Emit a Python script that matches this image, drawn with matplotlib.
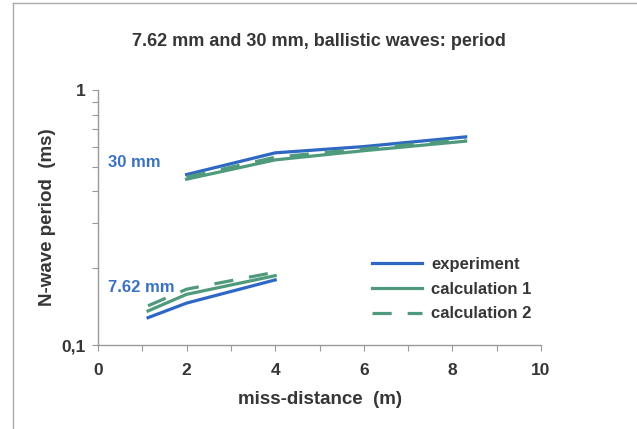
import numpy as np
import matplotlib.pyplot as plt
from matplotlib.lines import Line2D

plt.rcParams['font.family'] = ['Liberation Sans', 'DejaVu Sans']

# 30 mm projectile
x30 = [2, 4, 6, 8.3]
exp30 = [0.466, 0.567, 0.60, 0.655]
calc1_30 = [0.447, 0.532, 0.578, 0.630]
calc2_30 = [0.455, 0.545, 0.588, 0.640]

# 7.62 mm projectile
x762 = [1.13, 2, 4]
exp762 = [0.128, 0.146, 0.180]
calc1_762 = [0.136, 0.158, 0.187]
calc2_762 = [0.1425, 0.1655, 0.193]

blue = '#2f68c4'
green = '#4f9a7c'
txt = '#363636'

fig = plt.figure(figsize=(6.37, 4.29), dpi=100)
ax = fig.add_axes([98/637, 1-345/429, (541-98)/637, (345-90)/429])

ax.plot(x30, exp30, color=blue, lw=2.3, label='experiment')
ax.plot(x30, calc1_30, color=green, lw=2.3, label='calculation 1')
ax.plot(x30, calc2_30, color=green, lw=2.3, dashes=(6, 5), label='calculation 2')
ax.plot(x762, exp762, color=blue, lw=2.3)
ax.plot(x762, calc1_762, color=green, lw=2.3)
ax.plot(x762, calc2_762, color=green, lw=2.3, dashes=(6, 5))

ax.set_yscale('log')
ax.set_xlim(0, 10)
ax.set_ylim(0.1, 1)
ax.set_xticks(np.arange(0, 11, 2))
ax.set_xticks(np.arange(0, 11, 1), minor=True)
ax.set_yticks([0.1, 1])
ax.set_yticklabels(['0,1', '1'])
ax.set_yticks(np.arange(0.2, 1.0, 0.1), minor=True)
ax.yaxis.set_minor_formatter(plt.NullFormatter())

for s in ['top', 'right']:
    ax.spines[s].set_visible(False)
for s in ['left', 'bottom']:
    ax.spines[s].set_color('#999999')
    ax.spines[s].set_linewidth(1.0)
ax.tick_params(which='both', color='#999999', length=4, width=0.8,
               labelsize=12.5, labelcolor=txt)
for lab in ax.get_xticklabels() + ax.get_yticklabels():
    lab.set_fontweight('bold')
ax.tick_params(axis='x', pad=9)
ax.tick_params(axis='y', pad=5)

ax.set_xlabel('miss-distance  (m)', fontsize=13.5, fontweight='bold', color=txt, labelpad=9)
ax.set_ylabel('N-wave period  (ms)', fontsize=13.5, fontweight='bold', color=txt, labelpad=4)
fig.text(0.5, 1-41/429, '7.62 mm and 30 mm, ballistic waves: period', ha='center', va='center',
         fontsize=13, fontweight='bold', color=txt)

ax.text(0.23, 0.52, '30 mm', color='#3a72c0', fontsize=12, fontweight='bold', va='center')
ax.text(0.23, 0.168, '7.62 mm', color='#3a72c0', fontsize=12, fontweight='bold', va='center')

leg = ax.legend(loc='upper left', bbox_to_anchor=(0.618, 0.345), frameon=False,
                borderpad=0, borderaxespad=0,
                fontsize=12, handlelength=3.0, handletextpad=0.55, labelspacing=0.58)
for t in leg.get_texts():
    t.set_fontweight('bold')
    t.set_color(txt)

# outer chart frame
fig.add_artist(Line2D([12.5/637, 12.5/637], [0, 1-3/429], color='#aaaaaa', lw=1.0))
fig.add_artist(Line2D([12.5/637, 1], [1-3/429, 1-3/429], color='#aaaaaa', lw=1.0))

fig.savefig('out.png', dpi=100)
